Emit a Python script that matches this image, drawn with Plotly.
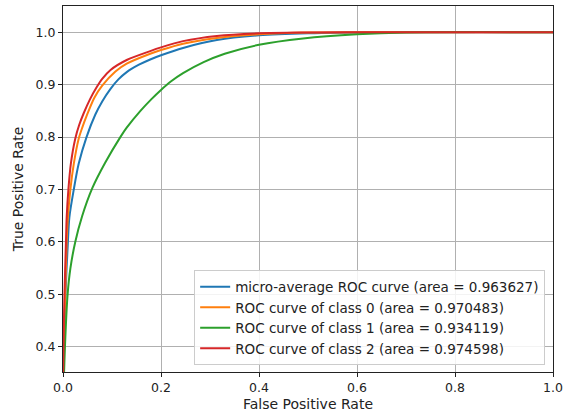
import plotly.graph_objects as go

# ROC curve data
micro_fpr = [0, 0, 0.002, 0.005, 0.01, 0.013, 0.022, 0.032, 0.048, 0.066, 0.08, 0.097, 0.113, 0.13, 0.155, 0.178, 0.2, 0.245, 0.314, 0.4, 0.5, 0.65, 1.0]
micro_tpr = [0, 0.3, 0.4, 0.5, 0.6, 0.647, 0.7, 0.749, 0.8, 0.843, 0.868, 0.892, 0.910, 0.924, 0.938, 0.948, 0.956, 0.970, 0.985, 0.994, 0.998, 1.0, 1.0]

c0_fpr = [0, 0, 0.002, 0.0045, 0.0075, 0.01, 0.015, 0.022, 0.032, 0.04, 0.048, 0.064, 0.08, 0.107, 0.13, 0.178, 0.2, 0.245, 0.314, 0.4, 0.5, 0.65, 1.0]
c0_tpr = [0, 0.3, 0.4, 0.5, 0.6, 0.647, 0.7, 0.749, 0.797, 0.82, 0.84, 0.875, 0.898, 0.925, 0.940, 0.959, 0.966, 0.978, 0.989, 0.996, 0.9993, 1.0, 1.0]

c1_fpr = [0, 0.001, 0.004, 0.0094, 0.015, 0.025, 0.039, 0.06, 0.086, 0.117, 0.13, 0.158, 0.18, 0.2, 0.22, 0.245, 0.287, 0.33, 0.4, 0.49, 0.6, 0.7, 1.0]
c1_tpr = [0, 0.3, 0.4, 0.5, 0.549, 0.6, 0.649, 0.703, 0.751, 0.8, 0.818, 0.850, 0.872, 0.890, 0.906, 0.922, 0.943, 0.959, 0.976, 0.988, 0.996, 0.9995, 1.0]

c2_fpr = [0, 0, 0.001, 0.003, 0.006, 0.0075, 0.011, 0.016, 0.025, 0.033, 0.042, 0.055, 0.068, 0.08, 0.097, 0.13, 0.178, 0.2, 0.245, 0.314, 0.4, 0.5, 0.6, 1.0]
c2_tpr = [0, 0.3, 0.4, 0.5, 0.6, 0.647, 0.7, 0.749, 0.797, 0.823, 0.845, 0.872, 0.894, 0.911, 0.928, 0.947, 0.964, 0.971, 0.983, 0.993, 0.998, 0.9995, 1.0, 1.0]

names = [
    "micro-average ROC curve (area = 0.963627)",
    "ROC curve of class 0 (area = 0.970483)",
    "ROC curve of class 1 (area = 0.934119)",
    "ROC curve of class 2 (area = 0.974598)",
]
colors = ["#1f77b4", "#ff7f0e", "#2ca02c", "#d62728"]
series = [(micro_fpr, micro_tpr), (c0_fpr, c0_tpr), (c1_fpr, c1_tpr), (c2_fpr, c2_tpr)]

fig = go.Figure()
for (xs, ys), name, col in zip(series, names, colors):
    fig.add_trace(go.Scatter(x=xs, y=ys, mode="lines", name=name,
                             line=dict(color=col, width=2, shape="spline", smoothing=0.8)))

font = dict(family="DejaVu Sans", size=12.5, color="#222222")
title_font = dict(family="DejaVu Sans", size=14, color="#222222")
legend_font = dict(family="DejaVu Sans", size=13.5, color="#222222")
axis_common = dict(showline=True, mirror=True, linecolor="#222222", linewidth=1.2,
                   showgrid=True, gridcolor="#b0b0b0", gridwidth=1,
                   ticks="outside", ticklen=4, tickcolor="#222222",
                   zeroline=False, tickfont=font, automargin=False)

fig.update_layout(
    width=563, height=417,
    margin=dict(l=63, r=10, t=6, b=45),
    paper_bgcolor="white", plot_bgcolor="white",
    font=font,
    showlegend=True,
    legend=dict(x=0.984, y=0.018, xanchor="right", yanchor="bottom",
                bgcolor="rgba(255,255,255,0.85)", bordercolor="#cccccc", borderwidth=1,
                font=legend_font, tracegroupgap=0),
    xaxis=dict(range=[0, 1.0], dtick=0.2, tickformat=".1f",
               title=dict(text="False Positive Rate", font=title_font, standoff=5), **axis_common),
    yaxis=dict(range=[0.352, 1.05], tick0=0.4, dtick=0.1, tickformat=".1f",
               title=dict(text="True Positive Rate", font=title_font, standoff=8), **axis_common),
)

fig.write_html("out.html", config={"displayModeBar": False},
               post_script="document.body.style.margin='0';")
